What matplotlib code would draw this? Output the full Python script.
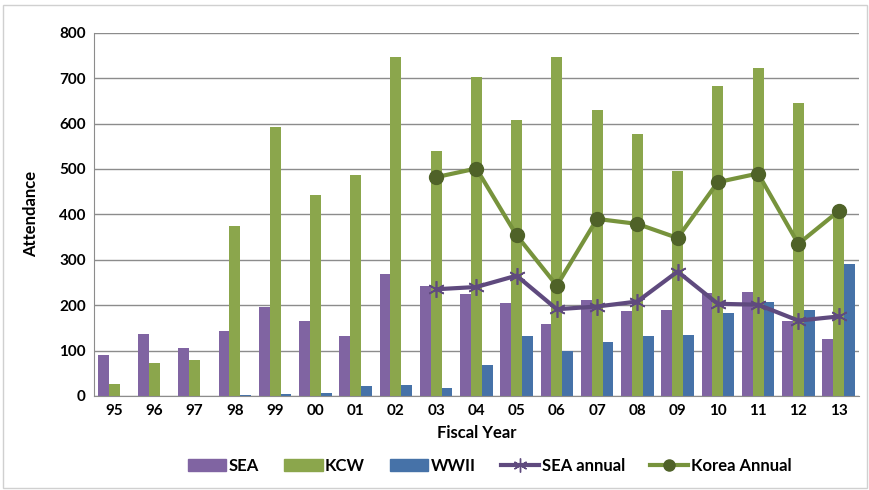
import matplotlib.pyplot as plt
import numpy as np
from matplotlib.patches import Rectangle
from matplotlib.lines import Line2D
from matplotlib.patches import Patch

# data
years = ['95', '96', '97', '98', '99', '00', '01', '02', '03', '04',
         '05', '06', '07', '08', '09', '10', '11', '12', '13']
sea = [90, 136, 105, 142, 196, 166, 133, 269, 243, 225,
       205, 159, 211, 188, 190, 226, 230, 165, 125]
kcw = [26, 73, 80, 374, 593, 443, 487, 746, 539, 703,
       607, 746, 629, 578, 496, 682, 723, 645, 403]
wwii = [0, 0, 0, 2, 4, 6, 22, 25, 18, 68,
        132, 98, 119, 131, 135, 183, 206, 190, 290]
line_years = ['03', '04', '05', '06', '07', '08', '09', '10', '11', '12', '13']
sea_annual = [235, 240, 265, 191, 197, 208, 274, 203, 201, 166, 175]
korea_annual = [482, 501, 354, 243, 390, 379, 348, 471, 490, 335, 407]

plt.rcParams['font.family'] = ['Lato', 'DejaVu Sans']

fig = plt.figure(figsize=(8.7, 4.9), dpi=100)
ax = fig.add_axes([0.108, 0.192, 0.879, 0.741])

x = np.arange(len(years))
w = 0.27
ax.bar(x - w, sea, w, color='#8064A2', zorder=2)
ax.bar(x, kcw, w, color='#8BA64C', zorder=2)
ax.bar(x + w, wwii, w, color='#4672A8', zorder=2)

lx = [years.index(y) for y in line_years]
ax.plot(lx, sea_annual, color='#5F4A7E', lw=3, marker=(6, 2, 0), ms=12,
        mew=1.2, mec='#5F4A7E', zorder=3)
ax.plot(lx, korea_annual, color='#77933C', lw=3, marker='o', ms=10,
        mfc='#4F6228', mec='#4F6228', zorder=4)

ax.set_xlim(-0.5, len(years) - 0.5)
ax.set_ylim(0, 800)
ax.set_yticks(range(0, 801, 100))
ax.set_xticks(x)
ax.set_xticklabels(years)
ax.yaxis.grid(True, color='#8C8C8C', lw=1)
ax.set_axisbelow(True)
ax.tick_params(length=0, labelsize=11, pad=6)
for lab in ax.get_xticklabels() + ax.get_yticklabels():
    lab.set_fontweight('bold')
for s in ['top', 'right']:
    ax.spines[s].set_visible(False)
for s in ['left', 'bottom']:
    ax.spines[s].set_color('#8C8C8C')

ax.set_ylabel('Attendance', fontsize=12, fontweight='bold', labelpad=14)
ax.set_xlabel('Fiscal Year', fontsize=12, fontweight='bold', labelpad=5)

handles = [
    Patch(color='#8064A2', label='SEA'),
    Patch(color='#8BA64C', label='KCW'),
    Patch(color='#4672A8', label='WWII'),
    Line2D([], [], color='#5F4A7E', lw=3, marker=(6, 2, 0), ms=10, label='SEA annual'),
    Line2D([], [], color='#77933C', lw=3, marker='o', ms=8, mfc='#4F6228',
           mec='#4F6228', label='Korea Annual'),
]
leg = fig.legend(handles=handles, loc='center', bbox_to_anchor=(0.563, 0.05), ncol=5,
                 frameon=False, handlelength=2.3, handleheight=0.7,
                 handletextpad=0.15, columnspacing=1.5,
                 prop={'weight': 'bold', 'size': 12})

# light frame around the chart
fig.add_artist(Rectangle((0.004, 0.004), 0.992, 0.985, transform=fig.transFigure,
                         fill=False, ec='#D0D0D0', lw=1))

fig.savefig('out.png', dpi=100)
